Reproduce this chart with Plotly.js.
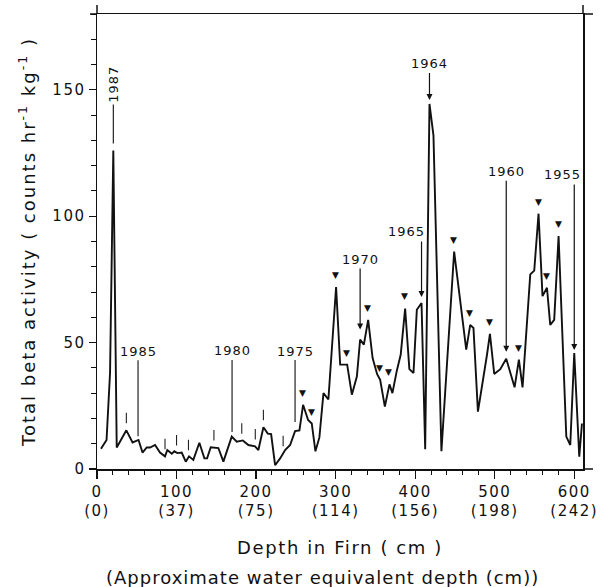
<!DOCTYPE html>
<html><head><meta charset="utf-8">
<script src="https://cdn.plot.ly/plotly-3.0.1.min.js"></script>
<style>
html,body{margin:0;padding:0;background:#fff}
text.annotation-text{letter-spacing:1px}
text.ytitle{letter-spacing:2px}
text.xtitle{letter-spacing:1.6px}
.xtick text,.ytick text{letter-spacing:1.5px}
</style>
</head><body><div id="chart" style="width:612px;height:587px"></div>
<script>
// ---- data ----
const depthCm = [5, 12, 16.4, 20.5, 24.8, 36.9, 44.7, 52.2, 57.2, 62.5, 66.7, 73, 79.2, 85.5, 88.4, 94, 97.2, 101, 106.5, 111.6, 115.7, 121.1, 128.7, 135, 138.4, 143, 152.6, 158.9, 169.4, 175.7, 183.3, 190.3, 198.7, 202.9, 209.2, 214.7, 218.9, 223.9, 230.2, 236.5, 242.8, 249, 254.5, 259.1, 265.4, 270, 274.6, 279.6, 284.7, 290.9, 300.6, 305.7, 314.5, 320.4, 326.7, 330.8, 335.5, 340.9, 346.5, 352.2, 356, 361.9, 367.7, 371.4, 377, 381.8, 387.4, 392.7, 397.9, 402.1, 408, 412.6, 418, 423, 433, 449, 464.2, 469.2, 473.3, 478.9, 490.2, 494, 499.4, 507, 514.5, 525, 530.4, 535, 544.7, 549.7, 555.1, 560.1, 565.7, 569.8, 574.8, 580.3, 590, 595, 600, 606.3, 609.7];
const betaActivity = [8, 11.5, 38, 126, 8.5, 15.3, 10.5, 11.5, 6.5, 8.5, 8.5, 9.5, 6.5, 5, 7.5, 6, 7, 6.3, 6.5, 2.9, 5, 3.6, 10.4, 4.2, 4.2, 8.6, 8.3, 2.9, 12.8, 10.8, 11.3, 9.5, 9, 7.5, 16.5, 14, 13.8, 1.5, 4.2, 7.5, 9.5, 15, 15.3, 25.4, 19.4, 18, 7, 12.5, 30, 27.5, 72, 41.3, 41.3, 29.4, 36.6, 51.2, 49.2, 59, 43.9, 37.5, 35.3, 24.7, 33.5, 30, 39, 45.2, 63.5, 39.5, 38, 63, 65.7, 7.8, 144.4, 132, 7, 86, 47.2, 57, 55.8, 22.7, 45, 53.5, 37.6, 39.5, 43.6, 32.3, 43.3, 32.3, 77, 78.5, 101, 68.4, 71.7, 57, 59, 92.2, 12.8, 9.5, 45.9, 4.9, 18];

const xTickDepths = [0, 100, 200, 300, 400, 500, 600];
const xTickWaterEq = ['(0)', '(37)', '(75)', '(114)', '(156)', '(198)', '(242)'];
const yTickValues = [0, 50, 100, 150];

const yearLabels = ['1987', '1985', '1980', '1975', '1970', '1965', '1964', '1960', '1955'];
const yearDepths = [20.5, 51.6, 169.8, 249, 330.8, 408, 418, 514.5, 600];

const peakMarkerDepths = [259.1, 270, 300.6, 314.5, 340.9, 356, 367.7, 387.4, 449, 469.2, 494, 530.4, 555.1, 565.7, 580.3];
const smallTickDepths = [36.9, 85.5, 100, 115, 147, 182, 199, 209.2, 234];

// ---- helpers ----
function valAt(d) {
  for (let i = 0; i < depthCm.length - 1; i++) {
    if (d >= depthCm[i] && d <= depthCm[i + 1]) {
      const t = (d - depthCm[i]) / (depthCm[i + 1] - depthCm[i]);
      return betaActivity[i] + t * (betaActivity[i + 1] - betaActivity[i]);
    }
  }
  return betaActivity[betaActivity.length - 1];
}

// label styling (pixel offsets / arrow style), keyed by label
// split: text drawn separately from its pointer line (text offset beside the line)
const labelStyle = {
  '1987': {ay: -66, standoff: 7, head: 0, angle: -90},
  '1985': {ay: -89, standoff: 4, head: 0, angle: 0},
  '1980': {ay: -86, standoff: 5, head: 0, angle: 0},
  '1975': {ay: -80, standoff: 9, head: 0, angle: 0},
  '1970': {ay: -80, standoff: 10, head: 2, angle: 0},
  '1965': {split: true, lineAy: -63, standoff: 6, head: 2, dx: -15, dy: 71},
  '1964': {ay: -40, standoff: 4, head: 2, angle: 0},
  '1960': {ay: -187, standoff: 7, head: 2, angle: 0},
  '1955': {split: true, lineAy: -170, standoff: 3, head: 2, dx: -12, dy: 178}
};

const FONT = 'DejaVu Sans, Liberation Sans, sans-serif';
const labelFont = {family: FONT, size: 13, color: '#111'};
const annotations = [];

yearLabels.forEach((lab, i) => {
  const d = yearDepths[i], v = valAt(d), s = labelStyle[lab];
  if (s.split) {
    annotations.push({
      x: d, y: v, xref: 'x', yref: 'y', text: '', showarrow: true,
      ax: 0, ay: s.lineAy, arrowhead: s.head, arrowsize: 1, arrowwidth: 1.2,
      arrowcolor: '#111', standoff: s.standoff, font: {size: 1}
    });
    annotations.push({
      x: d, y: v, xref: 'x', yref: 'y', text: lab, showarrow: false,
      xshift: s.dx, yshift: s.dy, xanchor: 'center', yanchor: 'middle', font: labelFont
    });
  } else {
    annotations.push({
      x: d, y: v, xref: 'x', yref: 'y', text: lab, showarrow: true,
      ax: 0, ay: s.ay, arrowhead: s.head, arrowsize: 1, arrowwidth: s.head ? 1.2 : 1.1,
      arrowcolor: '#111', standoff: s.standoff, textangle: s.angle, font: labelFont
    });
  }
});

peakMarkerDepths.forEach(d => {
  annotations.push({
    x: d, y: valAt(d), xref: 'x', yref: 'y', text: '▼', showarrow: false,
    yshift: 12, xanchor: 'center', yanchor: 'middle',
    font: {family: FONT, size: 9, color: '#111'}
  });
});

smallTickDepths.forEach(d => {
  annotations.push({
    x: d, y: valAt(d), xref: 'x', yref: 'y', text: '', showarrow: true,
    ax: 0, ay: -19, arrowhead: 0, arrowwidth: 1.1,
    arrowcolor: '#222', standoff: 7, font: {size: 1}
  });
});

annotations.push({
  x: 0.5, y: 0, xref: 'paper', yref: 'paper', xshift: -18, yshift: -108,
  text: '(Approximate water equivalent depth (cm))', showarrow: false,
  xanchor: 'center', yanchor: 'middle',
  font: {family: FONT, size: 18, color: '#111'}
});

// corner extensions of the frame
const lineStyle = {color: '#111', width: 1.5};
const shapes = [
  {type: 'line', xref: 'paper', yref: 'paper', x0: 0, x1: 0, ysizemode: 'pixel', yanchor: 1, y0: 0, y1: 9, line: lineStyle},
  {type: 'line', xref: 'paper', yref: 'paper', x0: 1, x1: 1, ysizemode: 'pixel', yanchor: 1, y0: 0, y1: 9, line: lineStyle},
  {type: 'line', xref: 'paper', yref: 'paper', y0: 1, y1: 1, xsizemode: 'pixel', xanchor: 0, x0: -7, x1: 0, line: lineStyle},
  {type: 'line', xref: 'paper', yref: 'paper', y0: 1, y1: 1, xsizemode: 'pixel', xanchor: 1, x0: 0, x1: 10, line: lineStyle},
  {type: 'line', xref: 'paper', yref: 'paper', y0: 0, y1: 0, xsizemode: 'pixel', xanchor: 1, x0: 0, x1: 10, line: lineStyle}
];

const trace = {
  x: depthCm, y: betaActivity, type: 'scatter', mode: 'lines',
  line: {color: '#111', width: 1.9}, hoverinfo: 'x+y'
};

const layout = {
  width: 612, height: 587,
  margin: {l: 97, r: 29, t: 14, b: 118},
  paper_bgcolor: '#fff', plot_bgcolor: '#fff',
  showlegend: false,
  font: {family: FONT, color: '#111'},
  xaxis: {
    range: [0, 611], showgrid: false, zeroline: false,
    showline: true, linecolor: '#111', linewidth: 1.5, mirror: true,
    ticks: 'outside', ticklen: 8, tickwidth: 1.3, tickcolor: '#111',
    tickvals: xTickDepths,
    ticktext: xTickDepths.map((d, i) => d + '<br>' + xTickWaterEq[i]),
    tickfont: {family: FONT, size: 15, color: '#111'},
    minor: {dtick: 20, ticks: 'outside', ticklen: 4, tickwidth: 1, tickcolor: '#111'},
    title: {text: 'Depth in Firn ( cm )', font: {family: FONT, size: 18, color: '#111'}, standoff: 22},
    automargin: false
  },
  yaxis: {
    range: [0, 180], showgrid: false, zeroline: false,
    showline: true, linecolor: '#111', linewidth: 1.5, mirror: true,
    ticks: 'outside', ticklen: 7, tickwidth: 1.3, tickcolor: '#111',
    tickvals: yTickValues, ticktext: yTickValues.map(String),
    tickfont: {family: FONT, size: 15, color: '#111'},
    minor: {dtick: 10, ticks: 'outside', ticklen: 5, tickwidth: 1, tickcolor: '#111'},
    title: {text: 'Total beta activity ( counts hr<sup>-1</sup> kg<sup>-1</sup> )', font: {family: FONT, size: 18, color: '#111'}, standoff: 12},
    automargin: false
  },
  annotations: annotations,
  shapes: shapes
};

Plotly.newPlot('chart', [trace], layout, {displayModeBar: false, staticPlot: true});
</script>
</body></html>
